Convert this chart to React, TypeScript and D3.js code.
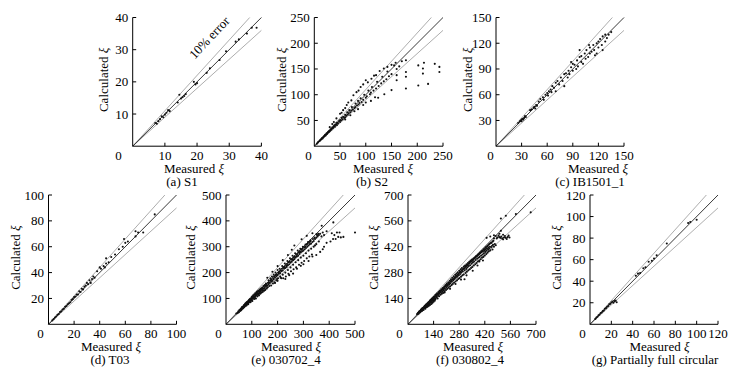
import React from "react";
import * as d3 from "d3";

type Pt = [number, number];

// ---------- tick values ----------
const ticksA = [10, 20, 30, 40];
const ticksB = [50, 100, 150, 200, 250];
const ticksC = [30, 60, 90, 120, 150];
const ticksD = [20, 40, 60, 80, 100];
const ticksE = [100, 200, 300, 400, 500];
const ticksF = [140, 280, 420, 560, 700];
const ticksG = [20, 40, 60, 80, 100, 120];

// ---------- captions ----------
const captions = [
  "(a) S1",
  "(b) S2",
  "(c) IB1501_1",
  "(d) T03",
  "(e) 030702_4",
  "(f) 030802_4",
  "(g) Partially full circular",
];

// ---------- data: [measured, calculated] ----------
const pointsA: Pt[] = [
  [7, 7.2], [7.5, 7], [8, 7.8], [8.5, 8.4], [9, 9.3], [9.5, 9], [10, 9.8], [10.5, 10.4],
  [11, 11.2], [11.5, 10.9], [14, 13.6], [14.5, 16], [15, 14.8], [15.5, 15.2], [16, 15.6],
  [16.5, 16.2], [19, 20], [19.5, 19.2], [20, 19.6], [23, 22.8], [24, 24.2], [27, 26.8],
  [29, 29.5], [32, 32.5], [33, 33.2], [35.5, 35], [37, 36.8], [38.5, 36.8],
];

const pointsB: Pt[] = [
  [5, 5], [7, 7], [8, 8.5], [10, 10], [11, 11], [12, 12.5], [13, 13], [14, 14], [15, 16], [16, 15],
  [17, 17], [18, 18.5], [19, 19], [20, 20], [21, 22], [22, 21], [23, 23], [24, 25], [25, 24], [26, 26],
  [27, 28], [28, 27], [29, 30], [30, 29], [31, 31], [32, 33], [33, 32], [34, 34], [35, 36], [36, 35],
  [37, 37], [38, 39], [40, 38], [40, 41], [42, 42], [43, 45], [44, 41], [45, 46], [46, 44], [48, 49],
  [50, 47], [50, 51], [52, 50], [53, 55], [55, 52], [56, 57], [58, 55], [60, 61], [60, 56], [62, 59],
  [64, 66], [65, 61], [67, 64], [68, 70], [70, 66], [72, 69], [73, 76], [75, 71], [78, 74], [80, 83],
  [80, 76], [83, 79], [85, 88], [86, 81], [88, 84], [90, 93], [92, 86], [95, 90], [97, 100], [100, 94],
  [102, 97], [105, 108], [108, 101], [110, 104], [112, 115], [115, 108], [120, 112], [122, 125],
  [125, 117], [130, 122], [132, 135], [135, 126], [140, 130], [142, 145], [145, 136], [150, 140],
  [155, 157], [160, 150], [165, 155],
  [30, 37], [35, 43], [38, 47], [43, 54], [50, 63], [53, 65], [56, 70], [60, 74], [63, 80], [66, 85],
  [72, 89], [76, 99], [82, 105], [86, 108], [90, 115], [95, 120], [100, 128], [104, 124], [111, 131],
  [116, 137], [120, 138], [127, 146], [135, 151], [142, 154], [150, 158], [158, 162], [170, 165],
  [60, 52], [70, 60], [78, 68], [85, 72], [95, 80], [100, 85], [110, 88], [118, 95], [124, 94],
  [136, 101], [150, 109], [160, 128], [160, 138], [178, 112], [178, 135], [178, 144], [178, 167],
  [202, 118], [202, 157], [211, 141], [211, 151], [213, 162], [221, 121], [234, 160], [243, 144],
  [243, 154],
];

const pointsC: Pt[] = [
  [26, 27], [28, 29], [29, 30], [30, 31], [30, 29], [31, 32], [32, 31], [33, 33], [34, 35], [35, 34],
  [40, 42], [42, 43], [44, 45], [45, 46], [46, 44], [47, 48], [48, 47], [50, 52], [52, 55], [55, 57],
  [56, 54], [58, 60], [60, 62], [61, 59], [62, 64], [64, 66], [65, 63], [66, 70], [68, 68], [70, 74],
  [70, 64], [72, 76], [74, 72], [76, 80], [78, 76], [80, 84], [80, 70], [82, 85], [84, 80], [85, 88],
  [86, 84], [88, 92], [88, 98], [90, 88], [90, 96], [92, 95], [94, 90], [95, 100], [96, 93], [98, 104],
  [98, 112], [100, 98], [100, 105], [102, 96], [104, 108], [105, 102], [106, 112], [108, 104],
  [109, 118], [110, 115], [110, 108], [112, 110], [114, 118], [115, 112], [116, 106], [118, 120],
  [118, 108], [120, 122], [120, 115], [122, 125], [124, 118], [125, 128], [125, 112], [128, 122],
  [128, 130], [130, 126], [132, 130], [135, 133],
];

const pointsD: Pt[] = [
  [3, 3], [4, 4], [5, 5.2], [6, 6], [7, 7.3], [8, 8], [9, 9.5], [10, 10], [11, 11.5], [12, 12],
  [13, 13.5], [14, 14.2], [15, 15.5], [16, 16.3], [17, 17], [18, 18.8], [19, 19.5], [20, 21],
  [21, 21.5], [22, 23], [23, 23], [24, 25.5], [25, 25], [26, 27.5], [27, 27], [28, 29], [29, 30],
  [30, 32], [31, 31], [32, 34], [33, 32], [34, 35], [35, 37], [36, 36], [38, 41], [40, 44], [41, 43],
  [43, 45], [44, 44], [45, 47], [45, 51], [47, 48], [49, 52], [52, 54], [55, 58], [58, 60], [59, 66],
  [60, 63], [62, 64], [68, 72], [68, 68], [70, 71], [74, 71], [83, 85],
];

const pointsE: Pt[] = [
  [40, 42], [45, 44], [48, 50], [50, 47], [52, 55], [55, 52], [56, 58], [58, 60], [60, 56], [60, 62],
  [62, 65], [64, 60], [65, 68], [66, 63], [68, 70], [70, 66], [70, 74], [72, 69], [73, 76], [75, 72],
  [75, 80], [77, 74], [78, 82], [80, 76], [80, 85], [82, 79], [84, 88], [85, 82], [86, 78], [88, 92],
  [90, 86], [90, 95], [92, 88], [93, 98], [95, 92], [95, 85], [97, 100], [98, 94], [100, 105], [100, 96],
  [102, 90], [103, 108], [105, 100], [106, 112], [108, 103], [110, 115], [110, 98], [112, 107],
  [114, 120], [115, 110], [116, 100], [118, 122], [120, 114], [120, 126], [122, 108], [124, 118],
  [125, 130], [127, 120], [128, 112], [130, 134], [130, 124], [133, 118], [135, 138], [135, 128],
  [137, 122], [140, 142], [140, 132], [142, 125], [145, 148], [145, 137], [148, 130], [150, 152],
  [150, 140], [152, 133], [155, 158], [155, 145], [158, 138],
  [160, 150], [162, 143], [165, 170], [165, 155], [168, 148], [170, 160], [172, 178], [175, 165],
  [175, 150], [178, 185], [180, 168], [182, 158], [185, 192], [185, 174], [188, 162], [190, 180],
  [192, 200], [195, 185], [195, 170], [198, 175], [200, 210], [200, 190], [202, 178], [205, 195],
  [208, 215], [210, 198], [210, 185], [212, 180], [215, 205], [218, 225], [220, 208], [220, 192],
  [222, 178], [225, 215], [228, 235], [230, 218], [230, 200], [232, 185], [235, 222], [238, 245],
  [240, 228], [240, 210], [242, 195], [245, 232], [248, 255], [250, 238], [250, 220], [252, 205],
  [255, 242], [258, 265], [260, 248], [260, 230], [262, 213], [265, 252], [268, 275], [270, 258],
  [270, 240], [272, 220], [275, 262], [278, 285], [280, 265], [280, 248], [283, 230], [285, 272],
  [288, 292], [290, 278], [290, 258], [293, 238], [295, 282], [298, 300], [300, 285], [300, 265],
  [303, 245], [305, 290], [308, 308], [310, 295], [310, 275], [313, 255], [315, 300], [318, 318],
  [320, 305], [320, 285], [323, 262], [325, 310], [328, 325], [330, 312], [330, 292], [333, 270],
  [335, 318], [340, 322], [340, 300], [345, 330], [345, 305], [350, 335], [350, 310], [355, 340],
  [360, 345], [360, 320], [365, 350], [370, 340], [375, 355], [380, 345], [390, 360],
  [58, 54], [63, 67], [67, 64], [71, 70], [76, 78], [79, 73], [83, 86], [87, 84], [91, 90], [96, 99],
  [99, 92], [104, 101], [107, 108], [111, 105], [113, 116], [117, 113], [121, 119], [123, 127],
  [126, 115], [129, 127], [131, 122], [134, 132], [138, 135], [141, 138], [144, 130], [147, 145],
  [153, 150], [157, 152], [163, 160], [167, 162], [173, 170], [177, 172], [183, 178], [187, 185],
  [193, 190], [197, 193], [203, 200], [207, 203], [213, 208], [217, 215], [223, 220], [227, 222],
  [233, 228], [237, 233], [243, 240], [247, 243], [253, 250], [257, 252], [263, 258], [267, 262],
  [273, 268], [277, 272], [283, 278], [287, 282], [293, 288], [297, 292], [303, 298], [307, 300],
  [313, 308], [317, 312], [323, 318], [327, 320], [337, 330], [343, 335], [353, 345], [358, 350],
  [190, 160], [200, 168], [215, 178], [230, 175], [245, 190], [260, 196], [275, 215], [290, 226],
  [300, 232], [320, 245], [335, 262], [350, 268], [365, 280], [375, 290], [380, 300], [390, 315],
  [405, 320], [415, 330], [425, 330], [435, 338], [445, 336], [455, 338], [420, 345], [430, 355],
  [440, 355], [500, 355], [410, 352],
  [160, 180], [180, 203], [200, 225], [220, 248], [240, 268], [255, 288], [265, 305], [293, 329],
  [313, 342], [335, 352], [351, 349], [371, 381], [416, 394],
];

const pointsF: Pt[] = [
  [50, 55], [55, 62], [58, 60], [60, 68], [62, 64], [65, 72], [68, 70], [70, 78], [72, 74], [75, 82],
  [76, 72], [78, 86], [80, 80], [82, 90], [84, 85], [85, 78], [88, 95], [90, 88], [92, 100], [94, 92],
  [95, 84], [97, 104], [100, 98], [100, 108], [102, 92], [105, 112], [106, 102], [108, 96], [110, 118],
  [112, 108], [114, 100], [115, 122], [118, 112], [120, 128], [120, 105], [122, 118], [125, 132],
  [126, 120], [128, 110], [130, 138], [132, 126], [134, 116], [135, 142], [138, 130], [140, 148],
  [140, 122], [142, 136], [145, 152], [146, 128], [148, 140], [150, 158], [150, 135],
  [155, 162], [155, 145], [158, 150], [160, 168], [162, 140], [165, 158], [168, 175], [170, 152],
  [172, 165], [175, 182], [178, 160], [180, 172], [182, 190], [185, 165], [188, 178], [190, 196],
  [192, 170], [195, 185], [198, 204], [200, 178], [202, 192], [205, 212], [208, 186], [210, 200],
  [212, 220], [215, 192], [218, 208], [220, 228], [222, 198], [225, 215], [228, 236], [230, 205],
  [232, 222], [235, 244], [238, 212], [240, 230], [242, 252], [245, 218], [248, 238], [250, 260],
  [252, 225], [255, 245], [258, 268], [260, 232], [262, 252], [265, 275], [268, 238], [270, 258],
  [272, 282], [275, 245], [278, 265], [280, 290], [282, 250], [285, 272], [288, 298], [290, 258],
  [292, 280], [295, 305], [298, 265], [300, 286],
  [305, 312], [305, 270], [310, 292], [312, 318], [315, 278], [318, 300], [320, 325], [322, 285],
  [325, 308], [328, 332], [330, 292], [332, 315], [335, 338], [338, 298], [340, 320], [342, 345],
  [345, 305], [348, 328], [350, 350], [352, 310], [355, 335], [358, 356], [360, 318], [362, 340],
  [365, 362], [368, 325], [370, 348], [372, 368], [375, 332], [378, 355], [380, 372], [382, 340],
  [385, 360], [388, 378], [390, 345], [392, 365], [395, 385], [398, 352], [400, 372], [402, 390],
  [405, 360], [408, 378], [410, 395], [412, 365], [415, 385], [418, 400], [420, 372], [422, 392],
  [425, 405], [428, 380], [430, 398], [432, 410], [435, 388], [438, 405], [440, 415], [442, 395],
  [445, 410], [448, 420], [450, 400], [455, 418], [460, 425], [462, 405], [465, 430], [470, 420],
  [475, 435], [480, 428],
  [53, 58], [57, 57], [63, 70], [67, 66], [73, 80], [77, 77], [81, 86], [86, 88], [91, 96], [96, 97],
  [101, 104], [104, 97], [109, 112], [113, 115], [117, 118], [121, 122], [124, 126], [127, 128],
  [131, 132], [133, 135], [137, 140], [139, 138], [143, 146], [147, 148], [152, 155], [157, 158],
  [161, 162], [163, 165], [167, 168], [171, 172], [173, 178], [177, 176], [181, 182], [183, 185],
  [187, 188], [191, 190], [193, 196], [197, 195], [203, 204], [207, 206], [213, 212], [217, 215],
  [223, 222], [227, 224], [233, 232], [237, 234], [243, 242], [247, 244], [253, 250], [257, 254],
  [263, 262], [267, 264], [273, 270], [277, 274], [283, 282], [287, 284], [293, 290], [297, 294],
  [303, 300], [307, 302], [313, 310], [317, 312], [323, 318], [327, 322], [333, 328], [337, 332],
  [343, 338], [347, 340], [353, 346], [357, 350], [363, 356], [367, 360], [373, 366], [377, 370],
  [383, 376], [387, 380], [393, 386], [397, 390], [403, 395], [407, 398], [413, 405], [417, 408],
  [423, 414], [427, 418], [433, 422], [437, 426], [443, 432], [447, 436], [453, 440], [457, 442],
  [463, 448], [467, 452],
  [200, 172], [230, 192], [260, 218], [290, 242], [309, 244], [320, 265], [354, 290], [380, 318],
  [390, 340], [410, 345],
  [485, 465], [490, 470], [495, 480], [500, 472], [505, 468], [510, 475], [515, 465], [520, 460],
  [525, 470], [530, 478], [535, 468], [540, 462], [545, 472], [550, 480], [555, 470], [520, 485],
  [500, 490], [508, 506], [480, 478], [470, 465], [430, 468], [450, 475], [470, 482],
  [508, 573], [535, 588], [590, 597], [671, 606],
];

const pointsG: Pt[] = [
  [5, 5], [6, 6.2], [7, 7], [8, 8.3], [9, 9], [10, 10.5], [11, 11], [12, 12.2], [13, 12.8], [14, 14.5],
  [15, 15], [16, 16.3], [17, 17], [18, 18.5], [19, 19], [20, 20.2], [21, 21], [22, 20], [23, 21.5],
  [24, 22], [25, 20.5], [43, 45], [45, 47], [47, 47.5], [50, 52], [52, 53], [55, 58], [58, 59],
  [60, 61], [62.5, 64], [72, 75], [92, 94], [94, 95], [100, 97],
];

// ---------- layout (not data) ----------
interface PanelSpec {
  left: number;
  top: number;
  w: number;
  h: number;
  max: number;
  ticks: number[];
  points: Pt[];
  caption: string;
  measuredX: number;
  captionX: number;
  zeroX: number;
  ylabDx: number;
  note?: boolean;
}

const TOP_ROW = 17.5;
const BOTTOM_ROW = 195;
const SIDE = 128.7;

const panels: PanelSpec[] = [
  { left: 132.7, top: TOP_ROW, w: SIDE, h: SIDE, max: 40, ticks: ticksA, points: pointsA, caption: captions[0], measuredX: 194, captionX: 182, zeroX: 118.5, ylabDx: -29.5, note: true },
  { left: 314.3, top: TOP_ROW, w: SIDE, h: SIDE, max: 250, ticks: ticksB, points: pointsB, caption: captions[1], measuredX: 383, captionX: 372, zeroX: 308.5, ylabDx: -33 },
  { left: 496, top: TOP_ROW, w: 128, h: SIDE, max: 150, ticks: ticksC, points: pointsC, caption: captions[2], measuredX: 598, captionX: 590, zeroX: 490.5, ylabDx: -29 },
  { left: 48.5, top: BOTTOM_ROW, w: 128, h: 129.3, max: 100, ticks: ticksD, points: pointsD, caption: captions[3], measuredX: 111, captionX: 110, zeroX: 40.5, ylabDx: -33.5 },
  { left: 226, top: BOTTOM_ROW, w: 129, h: 129.3, max: 500, ticks: ticksE, points: pointsE, caption: captions[4], measuredX: 291, captionX: 286, zeroX: 218.5, ylabDx: -36 },
  { left: 408, top: BOTTOM_ROW, w: 128, h: 129.3, max: 700, ticks: ticksF, points: pointsF, caption: captions[5], measuredX: 473, captionX: 470, zeroX: 399.5, ylabDx: -35 },
  { left: 590, top: BOTTOM_ROW, w: 128, h: 129.3, max: 120, ticks: ticksG, points: pointsG, caption: captions[6], measuredX: 659.5, captionX: 655, zeroX: 582.5, ylabDx: -34 },
];

const FONT = "'Liberation Serif', 'Times New Roman', Times, serif";

function Panel({ p }: { p: PanelSpec }) {
  const x = d3.scaleLinear().domain([0, p.max]).range([p.left, p.left + p.w]);
  const y = d3.scaleLinear().domain([0, p.max]).range([p.top + p.h, p.top]);
  const bottom = p.top + p.h;
  const line = d3
    .line<Pt>()
    .x((d) => x(d[0]))
    .y((d) => y(d[1]));
  const refLine = (k: number) => {
    const xe = Math.min(p.max, p.max / k);
    return line([
      [0, 0],
      [xe, xe * k],
    ]) as string;
  };
  const midY = p.top + p.h / 2;
  return (
    <g>
      {/* reference lines */}
      <path d={refLine(1.1)} stroke="#8a8a8a" strokeWidth={0.7} fill="none" />
      <path d={refLine(0.9)} stroke="#8a8a8a" strokeWidth={0.7} fill="none" />
      <path d={refLine(1)} stroke="#222" strokeWidth={0.9} fill="none" />
      {/* points */}
      {p.points.map((d, i) => (
        <circle key={i} cx={x(d[0])} cy={y(d[1])} r={1.05} fill="#111" />
      ))}
      {/* axes */}
      <line x1={p.left} x2={p.left} y1={p.top} y2={bottom} stroke="#000" strokeWidth={1} />
      <line x1={p.left} x2={p.left + p.w} y1={bottom} y2={bottom} stroke="#000" strokeWidth={1} />
      {p.ticks.map((t) => (
        <g key={"t" + t}>
          <line x1={x(t)} x2={x(t)} y1={bottom} y2={bottom - 3.5} stroke="#000" strokeWidth={1} />
          <line x1={p.left} x2={p.left + 3.5} y1={y(t)} y2={y(t)} stroke="#000" strokeWidth={1} />
          <text x={x(t)} y={bottom + 13.5} textAnchor="middle" fontSize={13} fontFamily={FONT} fill="#000">
            {t}
          </text>
          <text x={p.left - 4.5} y={y(t) + 4.5} textAnchor="end" fontSize={13} fontFamily={FONT} fill="#000">
            {t}
          </text>
        </g>
      ))}
      <text x={p.zeroX} y={bottom + 13.5} textAnchor="middle" fontSize={13} fontFamily={FONT} fill="#000">
        0
      </text>
      {/* axis titles */}
      <text x={p.measuredX} y={bottom + 26.5} textAnchor="middle" fontSize={13} fontFamily={FONT} fill="#000">
        Measured <tspan fontStyle="italic">ξ</tspan>
      </text>
      <text
        transform={`translate(${p.left + p.ylabDx + 4.5},${midY - 2}) rotate(-90)`}
        textAnchor="middle"
        fontSize={13}
        fontFamily={FONT}
        fill="#000"
      >
        Calculated <tspan fontStyle="italic">ξ</tspan>
      </text>
      <text x={p.captionX} y={bottom + 39.5} textAnchor="middle" fontSize={13} fontFamily={FONT} fill="#000">
        {p.caption}
      </text>
      {p.note && (
        <text
          transform={`translate(${x(24.8)},${y(32.8)}) rotate(-47)`}
          textAnchor="middle"
          fontSize={13}
          fontFamily={FONT}
          fill="#000"
        >
          10% error
        </text>
      )}
    </g>
  );
}

export default function App() {
  return (
    <svg
      width={743}
      height={378}
      viewBox="0 0 743 378"
      style={{ position: "absolute", left: 0, top: 0, background: "#fff", display: "block" }}
    >
      <rect x={0} y={0} width={743} height={378} fill="#fff" />
      {panels.map((p, i) => (
        <Panel key={i} p={p} />
      ))}
    </svg>
  );
}
